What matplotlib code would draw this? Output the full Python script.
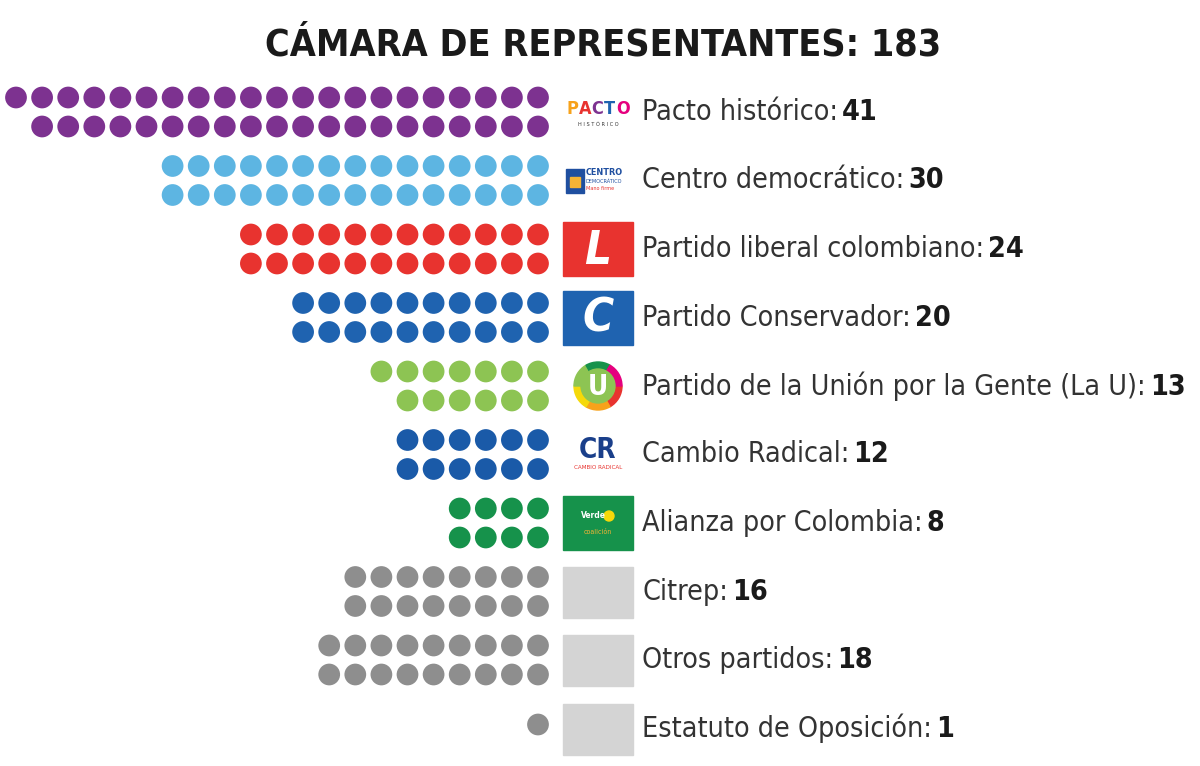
import matplotlib
matplotlib.use("Agg")
import matplotlib.pyplot as plt
from matplotlib.patches import Rectangle, Circle, Wedge

plt.rcParams['font.family'] = ['DejaVu Sans']
plt.rcParams['font.stretch'] = 'condensed'

title = "CÁMARA DE REPRESENTANTES: 183"
partidos = ["Pacto histórico", "Centro democrático", "Partido liberal colombiano",
            "Partido Conservador", "Partido de la Unión por la Gente (La U)",
            "Cambio Radical", "Alianza por Colombia", "Citrep", "Otros partidos",
            "Estatuto de Oposición"]
escanos = [41, 30, 24, 20, 13, 12, 8, 16, 18, 1]
colores = ["#7d3290", "#5db5e2", "#e8332f", "#1f63b0", "#8dc453",
           "#1a5aa8", "#16924b", "#8e8e8e", "#8e8e8e", "#8e8e8e"]

fig = plt.figure(figsize=(12, 7.66), dpi=100)
ax = fig.add_axes([0, 0, 1, 1])
ax.set_xlim(0, 1200)
ax.set_ylim(766, 0)
ax.axis('off')

x_right = 538
paso = 26.1
y0 = 112
pitch = 68.5
fila = 14.5
logo_x, logo_w, logo_h = 563, 70, 54

ax.text(603, 45, title, ha='center', va='center', fontsize=27,
        fontweight='bold', color='#1a1a1a')

for i, (nombre, n, c) in enumerate(zip(partidos, escanos, colores)):
    yc = y0 + i * pitch
    if n == 1:
        xs, ys = [x_right], [yc - 4]
    else:
        arriba = (n + 1) // 2
        abajo = n // 2
        xs = [x_right - k * paso for k in range(arriba)] + [x_right - k * paso for k in range(abajo)]
        ys = [yc - fila] * arriba + [yc + fila] * abajo
    ax.scatter(xs, ys, s=245, color=c, edgecolors='none')

    # logos (simplificados)
    lx, ly = logo_x, yc - logo_h / 2
    if nombre.startswith("Pacto"):
        for j, (ch, cc) in enumerate(zip("PACTO", ["#f7a21b", "#e8332f", "#7d3290", "#1f63b0", "#e5007e"])):
            ax.text(lx + 3 + j * 12.5, yc - 3, ch, color=cc, fontsize=13, fontweight='bold',
                    ha='left', va='center')
        ax.text(lx + 35, yc + 13, "H I S T Ó R I C O", fontsize=4, ha='center', va='center', color='#333')
    elif nombre.startswith("Centro"):
        ax.add_patch(Rectangle((lx + 3, yc - 12), 18, 24, color='#1f4fa0'))
        ax.add_patch(Rectangle((lx + 7, yc - 4), 10, 10, color='#f5b335'))
        ax.text(lx + 23, yc - 8, "CENTRO", fontsize=6.5, fontweight='bold', color='#1f4fa0', va='center')
        ax.text(lx + 23, yc + 1, "DEMOCRÁTICO", fontsize=4, color='#1f4fa0', va='center')
        ax.text(lx + 23, yc + 8, "Mano firme", fontsize=4, color='#e8332f', va='center')
    elif nombre.startswith("Partido liberal"):
        ax.add_patch(Rectangle((lx, ly), logo_w, logo_h, color='#e8332f'))
        ax.text(lx + logo_w / 2, yc + 2, "L", color='white', fontsize=34, fontweight='bold',
                style='italic', ha='center', va='center')
    elif nombre.startswith("Partido Conservador"):
        ax.add_patch(Rectangle((lx, ly), logo_w, logo_h, color='#1f63b0'))
        ax.text(lx + logo_w / 2, yc + 2, "C", color='white', fontsize=34, fontweight='bold',
                style='italic', ha='center', va='center')
    elif "La U" in nombre:
        cols = ["#e8332f", "#f7a21b", "#f5d90a", "#8dc453", "#16924b", "#e5007e"]
        for j, cc in enumerate(cols):
            ax.add_patch(Wedge((lx + 35, yc), 24, j * 60, (j + 1) * 60, width=7, color=cc))
        ax.add_patch(Circle((lx + 35, yc), 17, color='#8dc453'))
        ax.text(lx + 35, yc + 1, "U", color='white', fontsize=20, fontweight='bold',
                ha='center', va='center')
    elif nombre.startswith("Cambio"):
        ax.text(lx + 35, yc - 5, "CR", color='#1a3f8a', fontsize=20, fontweight='bold',
                ha='center', va='center')
        ax.text(lx + 35, yc + 13, "CAMBIO RADICAL", color='#e8332f', fontsize=4.5,
                ha='center', va='center')
    elif nombre.startswith("Alianza"):
        ax.add_patch(Rectangle((lx, ly), logo_w, logo_h, color='#16924b'))
        ax.text(lx + 30, yc - 7, "Verde", color='white', fontsize=6, fontweight='bold',
                ha='center', va='center')
        ax.add_patch(Circle((lx + 46, yc - 7), 5, color='#f5d90a'))
        ax.text(lx + 35, yc + 9, "coalición", color='#f5b335', fontsize=5, ha='center', va='center')
    else:
        ax.add_patch(Rectangle((lx, yc - 25), logo_w, 51, color='#d4d4d4'))

    t = ax.text(642, yc, nombre + ":", ha='left', va='center', fontsize=20.5, color='#333333')
    ax.annotate(str(n), xy=(1, 0), xycoords=t, xytext=(3, 0), textcoords='offset points',
                ha='left', va='bottom', fontsize=20.5, fontweight='bold', color='#1a1a1a')

fig.savefig("out.png", dpi=100, facecolor='white')
